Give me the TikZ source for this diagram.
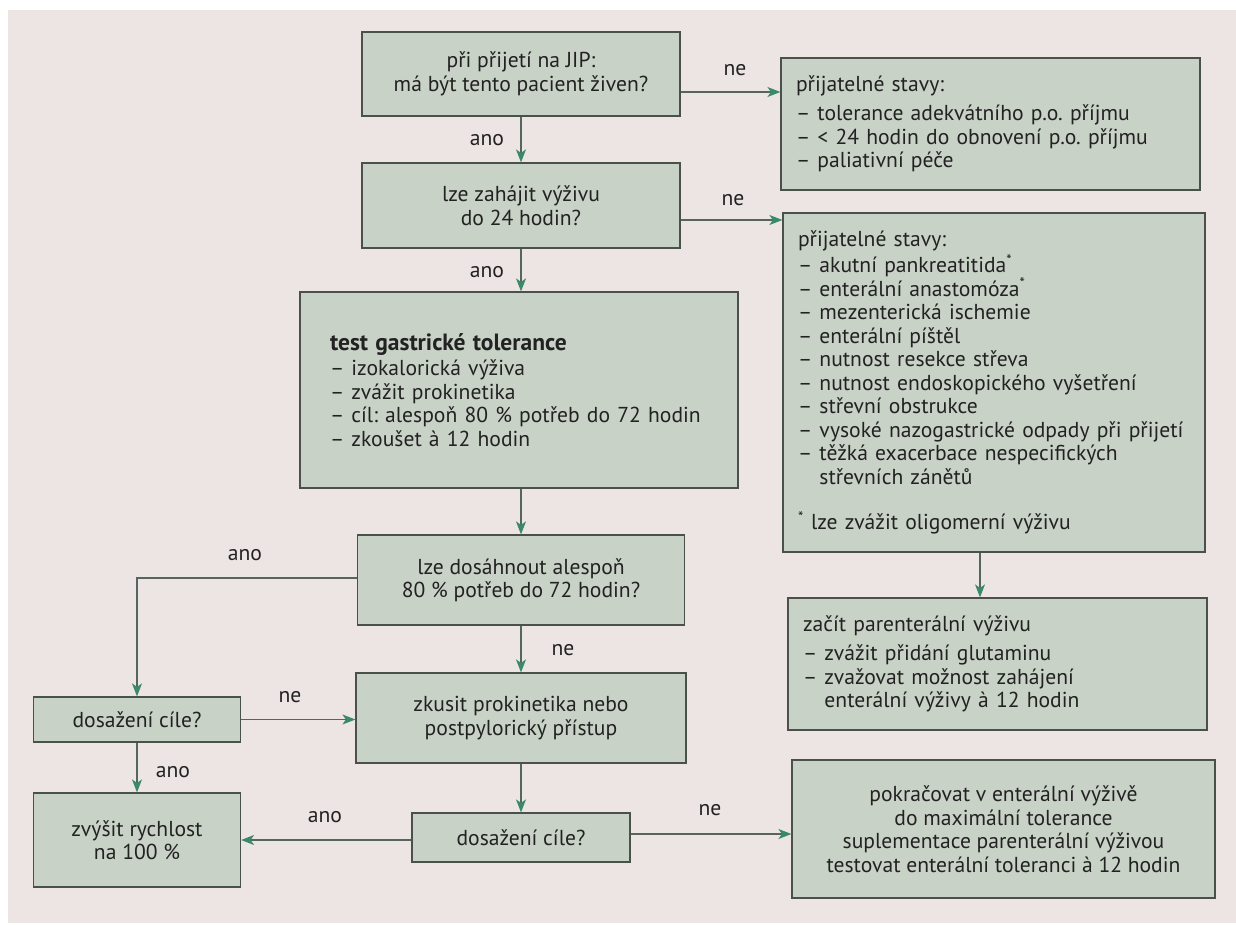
\documentclass[tikz,border=0pt]{standalone}
\usepackage{fontspec}
\setmainfont{PT Sans}
\frenchspacing
\usetikzlibrary{arrows.meta,calc}
\definecolor{pagebg}{HTML}{EDE5E4}
\definecolor{boxfill}{HTML}{C9D2C7}
\definecolor{boxline}{HTML}{4A514A}
\definecolor{arrline}{HTML}{55665F}
\definecolor{arrhead}{HTML}{3A8A6A}
\definecolor{txt}{HTML}{222222}
\begin{document}
\begin{tikzpicture}[x=1pt,y=-1pt,
  every node/.style={text=txt, font=\fontsize{21.6}{23.5}\selectfont},
  box/.style={draw=boxline, line width=1.2pt, fill=boxfill, inner sep=0pt, align=center},
  lbox/.style={draw=boxline, line width=1.2pt, fill=boxfill, inner ysep=0pt, inner xsep=15pt, align=left},
  arr/.style={draw=arrline, line width=1.1pt, -{Stealth[length=13pt,width=10pt,inset=3.5pt,color=arrhead]}},
  lab/.style={inner sep=0pt}]
\useasboundingbox (0,0) rectangle (1236,925);
\fill[white] (0,0) rectangle (1236,925);
\fill[pagebg] (8,10) rectangle (1236,923);

% main column
\node[box, minimum width=318pt, minimum height=84pt] (b1) at (521,74)
  {při přijetí na JIP:\\má být tento pacient živen?};
\node[box, minimum width=318pt, minimum height=85pt] (b2) at (521,205.5)
  {lze zahájit výživu\\do 24 hodin?};
\node[lbox, minimum height=196pt, text width=378pt, inner xsep=30pt] (b3) at (519,390)
  {{\fontsize{23.5}{25}\selectfont\bfseries test gastrické tolerance}\\[2pt]
   – izokalorická výživa\\
   – zvážit prokinetika\\
   – cíl: alespoň 80 \% potřeb do 72 hodin\\
   – zkoušet à 12 hodin};
\node[box, minimum width=327pt, minimum height=90pt] (b4) at (521,580)
  {lze dosáhnout alespoň\\80 \% potřeb do 72 hodin?};
\node[box, minimum width=330pt, minimum height=90pt] (b6) at (521,718)
  {zkusit prokinetika nebo\\postpylorický přístup};
\node[box, minimum width=218pt, minimum height=49pt] (b8) at (521,837.5)
  {dosažení cíle?};

% left column
\node[box, minimum width=207pt, minimum height=45pt] (b5) at (137,719.5)
  {dosažení cíle?};
\node[box, minimum width=207pt, minimum height=94pt] (b7) at (137,840)
  {zvýšit rychlost\\na 100 \%};

% right column
\node[lbox, minimum height=132pt, text width=389pt] (r1) at (990.5,124)
  {přijatelné stavy:\\[6pt]
   – tolerance adekvátního p.o. příjmu\\
   – < 24 hodin do obnovení p.o. příjmu\\
   – paliativní péče};
\node[lbox, minimum height=339pt, text width=392pt] (r2) at (994,382.5)
  {přijatelné stavy:\\[3pt]
   – akutní pankreatitida\textsuperscript{*}\\
   – enterální anastomóza\textsuperscript{*}\\
   – mezenterická ischemie\\
   – enterální píštěl\\
   – nutnost resekce střeva\\
   – nutnost endoskopického vyšetření\\
   – střevní obstrukce\\
   – vysoké nazogastrické odpady při přijetí\\
   – těžká exacerbace nespecifických\\
   \phantom{– }střevních zánětů\\[22pt]
   \textsuperscript{*} lze zvážit oligomerní výživu};
\node[lbox, minimum height=132pt, text width=389pt] (r3) at (997.5,664)
  {začít parenterální výživu\\[6pt]
   – zvážit přidání glutaminu\\
   – zvažovat možnost zahájení\\
   \phantom{– }enterální výživy à 12 hodin};
\node[box, minimum width=423pt, minimum height=138pt] (r4) at (1003.5,829)
  {pokračovat v enterální výživě\\
   do maximální tolerance\\
   suplementace parenterální výživou\\
   testovat enterální toleranci à 12 hodin};

% connectors
\draw[arr] (b1) -- (b2);
\draw[arr] (b2) -- (b3.north -| b2.south);
\draw[arr] (b3.south -| b4.north) -- (b4);
\draw[arr] (b4) -- (b6);
\draw[arr] (b6) -- (b8);
\draw[arr] (b1.east |- 0,92) -- (r1.west |- 0,92);
\draw[arr] (b2.east |- 0,220) -- (r2.west |- 0,220);
\draw[arr] (r2.south -| 980,0) -- (r3.north -| 980,0);
\draw[arr] (b4.west |- 0,578) -| (b5.north);
\draw[arr] (b5.east) -- (b5.east -| b6.west);
\draw[arr] (b5) -- (b7);
\draw[arr] (b8.west |- 0,840) -- (b7.east |- 0,840);
\draw[arr] (b8.east |- 0,834) -- (r4.west |- 0,834);

% labels
\node[lab] (l1) at (487,140) {ano};
\node[lab] (l2) at (487,272) {ano};
\node[lab] (l3) at (735,70) {ne};
\node[lab] (l4) at (733,200) {ne};
\node[lab] (l5) at (245,555) {ano};
\node[lab] (l6) at (563,650) {ne};
\node[lab] (l7) at (290,697) {ne};
\node[lab] (l8) at (173,772) {ano};
\node[lab] (l9) at (325,817) {ano};
\node[lab] (l10) at (710,810) {ne};
\end{tikzpicture}
\end{document}
